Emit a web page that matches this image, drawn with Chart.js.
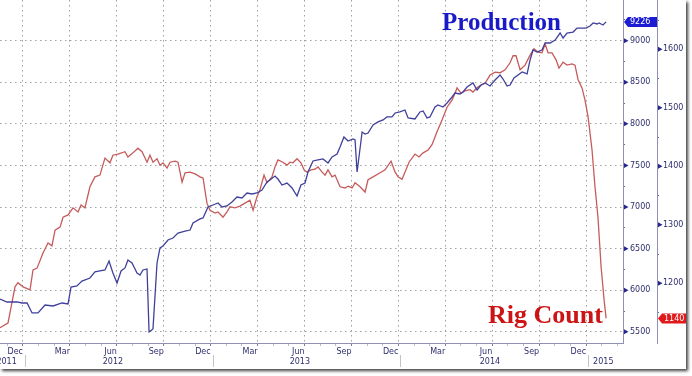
<!DOCTYPE html>
<html>
<head>
<meta charset="utf-8">
<script src="https://cdn.jsdelivr.net/npm/chart.js@4.4.1/dist/chart.umd.min.js"></script>
<style>
  body{margin:0;background:#fff;}
  #box{position:absolute;left:0;top:0;width:686px;height:369px;background:#fff;box-shadow:2px 2px 3px rgba(0,0,0,0.75);}
</style>
</head>
<body>
<div id="box"><canvas id="rigs"></canvas></div>
<script>
// x values: months since 1 Jan 2012 (roughly weekly readings)
const prodMonths = [-1.47,-1.02,-0.38,-0.06,0.26,0.58,0.96,1.41,1.92,2.49,
  2.88,3.07,3.45,3.77,4.28,4.60,4.92,5.24,5.50,5.75,
  6.01,6.27,6.52,6.71,6.97,7.29,7.48,7.67,7.93,8.06,
  8.31,8.57,8.76,8.95,9.27,9.59,9.91,10.36,10.68,10.87,
  11.32,11.51,11.83,12.15,12.47,12.72,13.04,13.36,13.68,14.00,
  14.32,14.64,14.96,15.28,15.60,15.79,16.11,16.30,16.56,16.88,
  17.20,17.52,17.77,18.03,18.22,18.54,18.86,19.18,19.50,19.76,
  20.08,20.27,20.52,20.78,21.10,21.23,21.36,21.68,21.87,22.06,
  22.38,22.70,23.02,23.27,23.59,23.79,24.10,24.42,24.62,25.06,
  25.38,25.58,25.83,26.02,26.34,26.53,26.85,27.11,27.43,27.62,
  27.94,28.13,28.39,28.77,29.03,29.28,29.54,29.86,30.18,30.50,
  30.69,30.95,31.14,31.39,31.65,31.91,32.23,32.42,32.61,32.86,
  33.18,33.38,33.70,34.02,34.34,34.53,34.78,35.17,35.42,35.74,
  36.00,36.25,36.45,36.70,36.83,37.08,37.28];
const prodValues = [5895,5859,5859,5847,5847,5727,5727,5823,5811,5847,
  5835,6039,6051,6111,6147,6220,6232,6244,6352,6207,
  6087,6232,6268,6364,6328,6207,6183,6244,6256,5498,
  5534,6328,6508,6532,6604,6628,6688,6712,6724,6809,
  6857,6869,7001,7025,7049,7001,7013,7061,7121,7109,
  7169,7157,7169,7205,7301,7325,7373,7337,7265,7289,
  7229,7133,7265,7289,7422,7554,7566,7578,7530,7602,
  7638,7722,7842,7794,7818,7806,7422,7902,7878,7890,
  7987,8023,8047,8083,8083,8131,8143,8167,8071,8059,
  8143,8155,8071,8083,8203,8227,8203,8251,8323,8371,
  8359,8383,8443,8491,8407,8467,8491,8455,8527,8588,
  8539,8455,8467,8551,8588,8624,8600,8768,8888,8864,
  8888,8972,8972,9008,9092,9032,9092,9104,9152,9152,
  9152,9176,9213,9201,9213,9189,9226];

const rigMonths = [-1.47,-0.96,-0.51,-0.32,0.00,0.45,0.64,0.90,1.28,1.60,
  1.85,2.05,2.37,2.56,2.88,3.20,3.52,3.71,3.96,4.28,
  4.60,4.92,5.24,5.56,5.75,6.07,6.52,6.71,7.03,7.35,
  7.61,7.93,8.12,8.31,8.57,8.76,8.95,9.21,9.40,9.72,
  9.91,10.17,10.36,10.68,11.00,11.32,11.51,11.76,11.96,12.28,
  12.47,12.79,13.04,13.24,13.55,13.87,14.19,14.51,14.71,14.96,
  15.15,15.41,15.60,15.92,16.11,16.30,16.62,16.88,17.07,17.26,
  17.52,17.77,17.97,18.16,18.41,18.67,18.86,19.12,19.31,19.50,
  19.76,19.95,20.27,20.59,20.78,21.04,21.23,21.55,21.87,22.06,
  22.38,22.83,23.15,23.53,23.79,23.98,24.23,24.42,24.68,25.06,
  25.32,25.58,25.90,26.15,26.47,26.79,27.11,27.43,27.62,27.75,
  28.00,28.26,28.58,28.77,29.09,29.54,29.86,30.18,30.50,30.82,
  31.14,31.33,31.52,31.78,32.10,32.42,32.67,32.93,33.18,33.38,
  33.57,33.82,34.08,34.27,34.53,34.78,35.10,35.29,35.49,35.74,
  35.93,36.13,36.38,36.57,36.76,36.96,37.15,37.28];
const rigValues = [1124,1132,1194,1201,1194,1189,1223,1226,1252,1269,
  1264,1291,1296,1313,1317,1329,1322,1334,1329,1365,
  1382,1385,1414,1406,1419,1421,1425,1416,1423,1431,
  1425,1407,1419,1407,1413,1402,1406,1397,1407,1409,
  1407,1373,1389,1390,1387,1382,1380,1337,1325,1320,
  1322,1313,1322,1331,1329,1332,1337,1342,1325,1348,
  1360,1385,1372,1382,1399,1411,1407,1402,1407,1406,
  1413,1406,1394,1390,1394,1395,1399,1390,1385,1394,
  1382,1385,1365,1363,1366,1363,1372,1365,1356,1377,
  1382,1389,1394,1409,1390,1382,1378,1390,1407,1421,
  1416,1423,1428,1437,1459,1479,1501,1513,1525,1534,
  1525,1529,1531,1527,1536,1542,1556,1561,1560,1565,
  1577,1589,1589,1565,1573,1590,1601,1595,1594,1609,
  1594,1594,1582,1568,1578,1573,1575,1573,1548,1534,
  1513,1484,1428,1365,1313,1228,1172,1140];

const quarterTicks = [0,3,6,9,12,15,18,21,24,27,30,33,36];
const quarterLabels = ['Dec','Mar','Jun','Sep','Dec','Mar','Jun','Sep','Dec','Mar','Jun','Sep','Dec'];
const yearLabels = ['2011','2012','2013','2014','2015'];
const yearLabelPos = [-1.05,5.75,17.7,29.85,37.1];
const yearBreaks = [0,12,24,36];
const prodMajor = [5500,6000,6500,7000,7500,8000,8500,9000];
const rigMajor = [1200,1300,1400,1500,1600];

const BLUE = '#40409c', RED = '#c65b5b';
const LABEL = '#2e2e6e', AXIS = '#9090b4', GRID = '#a0a0a0';
const FONT = {family: 'DejaVu Sans', size: 8};

let monthTicks = [];
for (let m = -1; m <= 38; m++) monthTicks.push(m);
let prodTicks = [];
for (let v = 5500; v <= 9250; v += 250) prodTicks.push(v);
let rigTicks = [];
for (let v = 1150; v <= 1650; v += 50) rigTicks.push(v);

function badge(ctx, x, py, w, color, text){
    ctx.save();
    ctx.fillStyle = color;
    ctx.beginPath();
    ctx.moveTo(x, py);
    ctx.lineTo(x + 4, py - 5);
    ctx.lineTo(x + w, py - 5);
    ctx.lineTo(x + w, py + 5);
    ctx.lineTo(x + 4, py + 5);
    ctx.closePath();
    ctx.fill();
    ctx.fillStyle = '#fff';
    ctx.font = '8px "DejaVu Sans"';
    ctx.textBaseline = 'middle';
    ctx.fillText(text, x + 6, py + 0.5);
    ctx.restore();
}

const extras = {
    id: 'extras',
    afterDraw(chart){
        const ctx = chart.ctx;
        const xs = chart.scales.x, ys = chart.scales.y, ys2 = chart.scales.y2;
        ctx.save();
        // year separators + labels
        ctx.strokeStyle = '#c4c4c4';
        ctx.lineWidth = 1;
        for (let b of yearBreaks){
            let px = Math.round(xs.getPixelForValue(b)) + 2.5;
            ctx.beginPath(); ctx.moveTo(px, 355); ctx.lineTo(px, 367); ctx.stroke();
        }
        ctx.fillStyle = LABEL;
        ctx.font = '8px "DejaVu Sans"';
        ctx.textAlign = 'center';
        ctx.textBaseline = 'middle';
        yearLabels.forEach((t, i) => ctx.fillText(t, xs.getPixelForValue(yearLabelPos[i]), 361.5));
        // arrow markers on major ticks
        ctx.fillStyle = '#26268c';
        const tri = (x, py) => {
            ctx.beginPath(); ctx.moveTo(x, py - 2.5); ctx.lineTo(x + 4.5, py); ctx.lineTo(x, py + 2.5); ctx.closePath(); ctx.fill();
        };
        prodMajor.forEach(v => tri(ys.left + 1, ys.getPixelForValue(v)));
        rigMajor.forEach(v => tri(ys2.left + 1, ys2.getPixelForValue(v)));
        ctx.restore();
        // last value badges
        badge(ctx, ys.left + 1, ys.getPixelForValue(prodValues[prodValues.length - 1]), 33, '#1c1cd2', String(prodValues[prodValues.length - 1]));
        badge(ctx, ys2.left + 1, ys2.getPixelForValue(rigValues[rigValues.length - 1]), 28, '#e01a1a', String(rigValues[rigValues.length - 1]));
        // series titles
        ctx.save();
        ctx.textBaseline = 'alphabetic';
        ctx.font = 'bold 25px "Liberation Serif"';
        ctx.fillStyle = '#1a1ac8';
        ctx.fillText('Production', 442, 30);
        ctx.font = 'bold 26px "Liberation Serif"';
        ctx.fillStyle = '#cc1414';
        ctx.fillText('Rig Count', 488, 322.5);
        ctx.restore();
    }
};

new Chart(document.getElementById('rigs'), {
    type: 'line',
    data: {
        datasets: [
            {label: 'Production', yAxisID: 'y', borderColor: BLUE,
             data: prodMonths.map((m, i) => ({x: m, y: prodValues[i]}))},
            {label: 'Rig Count', yAxisID: 'y2', borderColor: RED,
             data: rigMonths.map((m, i) => ({x: m, y: rigValues[i]}))}
        ]
    },
    options: {
        responsive: true,
        maintainAspectRatio: false,
        animation: false,
        layout: {padding: 0, autoPadding: false},
        elements: {line: {borderWidth: 1.3, tension: 0}, point: {radius: 0}},
        plugins: {legend: {display: false}, tooltip: {enabled: false}},
        scales: {
            x: {
                type: 'linear', min: -1.47, max: 38.36,
                afterBuildTicks: s => { s.ticks = monthTicks.map(v => ({value: v})); },
                afterFit: s => { s.height = 26; s.paddingLeft = 0; s.paddingRight = 0; },
                ticks: {autoSkip: false, maxRotation: 0, align: 'end', padding: 1, color: LABEL, font: FONT,
                    callback: v => { let i = quarterTicks.indexOf(v); return i < 0 ? '' : quarterLabels[i]; }},
                grid: {
                    color: c => (c.tick && quarterTicks.includes(c.tick.value)) ? GRID : 'rgba(0,0,0,0)',
                    tickColor: c => (c.tick && quarterTicks.includes(c.tick.value)) ? '#7a7aa0' : '#b8b8cc',
                    tickLength: 3
                },
                border: {color: AXIS, dash: [1.5, 3.5]}
            },
            y: {
                position: 'right', min: 5366, max: 9489,
                afterBuildTicks: s => { s.ticks = prodTicks.map(v => ({value: v})); },
                afterFit: s => { s.width = 34; s.paddingTop = 0; s.paddingBottom = 0; },
                ticks: {padding: 5, color: LABEL, font: FONT,
                    callback: v => prodMajor.includes(v) ? String(v) : ''},
                grid: {
                    color: c => (c.tick && prodMajor.includes(c.tick.value)) ? GRID : 'rgba(0,0,0,0)',
                    tickColor: c => (c.tick && prodMajor.includes(c.tick.value)) ? 'rgba(0,0,0,0)' : '#6a6a9a',
                    tickLength: 2
                },
                border: {color: AXIS, dash: [1.5, 3.5]}
            },
            y2: {
                position: 'right', min: 1098, max: 1684.3,
                afterBuildTicks: s => { s.ticks = rigTicks.map(v => ({value: v})); },
                afterFit: s => { s.width = 29; s.paddingTop = 0; s.paddingBottom = 0; },
                ticks: {padding: 4, color: LABEL, font: FONT,
                    callback: v => rigMajor.includes(v) ? String(v) : ''},
                grid: {
                    drawOnChartArea: false,
                    tickColor: c => (c.tick && rigMajor.includes(c.tick.value)) ? 'rgba(0,0,0,0)' : '#6a6a9a',
                    tickLength: 2
                },
                border: {color: AXIS}
            }
        }
    },
    plugins: [extras]
});
</script>
</body>
</html>
